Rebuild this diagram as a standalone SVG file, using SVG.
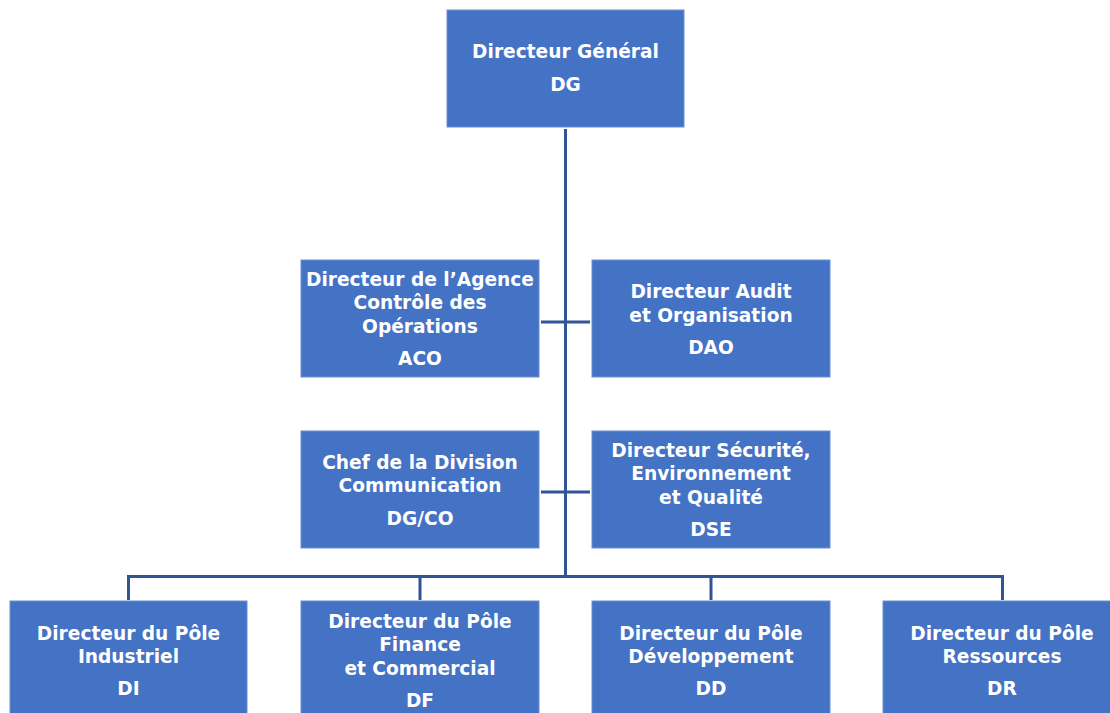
<svg xmlns="http://www.w3.org/2000/svg" width="1110" height="713" viewBox="0 0 1110 713">
<style>
.box{fill:#4472C4;stroke:#6B90D2;stroke-width:1}
.t{font-family:"DejaVu Sans","Liberation Sans",sans-serif;font-weight:bold;font-size:18.6px;fill:#FFFFFF;text-anchor:middle}
.c{stroke:#2F5597;stroke-width:3;fill:none}
</style>
<rect width="1110" height="713" fill="#FFFFFF"/>
<g id="connectors">
<line class="c" x1="565.5" y1="129" x2="565.5" y2="577"/>
<line class="c" x1="541" y1="322" x2="590" y2="322"/>
<line class="c" x1="541" y1="492" x2="590" y2="492"/>
<polyline class="c" points="128.5,600 128.5,576.5 1002.5,576.5 1002.5,600"/>
<line class="c" x1="420" y1="576.5" x2="420" y2="600"/>
<line class="c" x1="711" y1="576.5" x2="711" y2="600"/>
</g>
<g id="DG">
<rect class="box" x="447" y="10" width="237" height="117"/>
<text class="t" x="565.5" y="58">Directeur Général</text>
<text class="t" x="565.5" y="91">DG</text>
</g>
<g id="ACO">
<rect class="box" x="301" y="260" width="238" height="117"/>
<text class="t" x="420" y="286">Directeur de l’Agence</text>
<text class="t" x="420" y="309">Contrôle des</text>
<text class="t" x="420" y="333">Opérations</text>
<text class="t" x="420" y="365">ACO</text>
</g>
<g id="DAO">
<rect class="box" x="592" y="260" width="238" height="117"/>
<text class="t" x="711" y="298">Directeur Audit</text>
<text class="t" x="711" y="322">et Organisation</text>
<text class="t" x="711" y="354">DAO</text>
</g>
<g id="DGCO">
<rect class="box" x="301" y="431" width="238" height="117"/>
<text class="t" x="420" y="469">Chef de la Division</text>
<text class="t" x="420" y="492">Communication</text>
<text class="t" x="420" y="525">DG/CO</text>
</g>
<g id="DSE">
<rect class="box" x="592" y="431" width="238" height="117"/>
<text class="t" x="711" y="457">Directeur Sécurité,</text>
<text class="t" x="711" y="480">Environnement</text>
<text class="t" x="711" y="504">et Qualité</text>
<text class="t" x="711" y="536">DSE</text>
</g>
<g id="DI">
<rect class="box" x="10" y="601" width="237" height="117"/>
<text class="t" x="128.5" y="640">Directeur du Pôle</text>
<text class="t" x="128.5" y="663">Industriel</text>
<text class="t" x="128.5" y="695">DI</text>
</g>
<g id="DF">
<rect class="box" x="301" y="601" width="238" height="117"/>
<text class="t" x="420" y="628">Directeur du Pôle</text>
<text class="t" x="420" y="651">Finance</text>
<text class="t" x="420" y="675">et Commercial</text>
<text class="t" x="420" y="707">DF</text>
</g>
<g id="DD">
<rect class="box" x="592" y="601" width="238" height="117"/>
<text class="t" x="711" y="640">Directeur du Pôle</text>
<text class="t" x="711" y="663">Développement</text>
<text class="t" x="711" y="695">DD</text>
</g>
<g id="DR">
<rect class="box" x="883" y="601" width="238" height="117"/>
<text class="t" x="1002" y="640">Directeur du Pôle</text>
<text class="t" x="1002" y="663">Ressources</text>
<text class="t" x="1002" y="695">DR</text>
</g>
</svg>
